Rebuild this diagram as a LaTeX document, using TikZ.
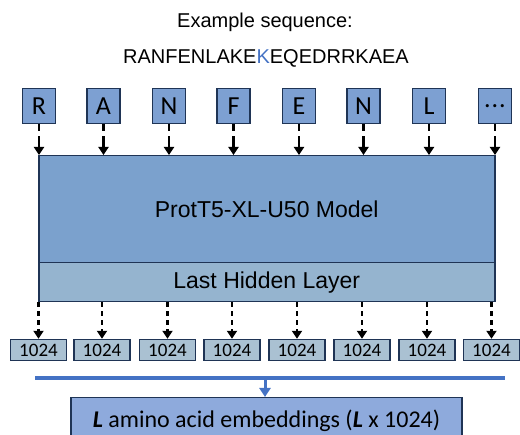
\documentclass[tikz,border=0pt]{standalone}
\usepackage{fontspec}
\setmainfont{Liberation Sans}
\newfontfamily\calfont{Carlito}
\usetikzlibrary{arrows.meta}
\definecolor{letterfill}{HTML}{7DA0D2}
\definecolor{modelfill}{HTML}{7BA1CD}
\definecolor{hiddenfill}{HTML}{95B4CF}
\definecolor{dimfill}{HTML}{AAC1D2}
\definecolor{embfill}{HTML}{8EAADC}
\definecolor{edge}{HTML}{1F3455}
\definecolor{accent}{HTML}{4472C4}
\newcommand\mythreedots{.\kern1pt.\kern1pt.}
\tikzset{
  letterbox/.style={draw=edge, line width=1.5pt, fill=letterfill, minimum width=33pt, minimum height=35pt, inner sep=0pt, font=\calfont\fontsize{26}{26}\selectfont},
  dimbox/.style={draw=edge, line width=1.4pt, fill=dimfill, minimum width=56pt, minimum height=21pt, inner sep=0pt, font=\calfont\fontsize{19}{19}\selectfont},
  inarrow/.style={line width=2.4pt, dash pattern=on 7pt off 5pt on 40pt off 5pt, -{Triangle[width=10pt,length=8pt]}},
  outarrow/.style={line width=2.4pt, dash pattern=on 5pt off 4pt, -{Triangle[width=10pt,length=8pt]}},
  bluearrow/.style={accent, line width=3pt, -{Triangle[width=11pt,length=9pt]}},
}
\begin{document}
\begin{tikzpicture}[x=1pt,y=-1pt]
\clip (0,0) rectangle (520,435);
\useasboundingbox (0,0) rectangle (520,435);
\node[font=\fontsize{20}{20}\selectfont] (title) at (265,22) {Example sequence:};
\node[font=\fontsize{20}{20}\selectfont] (seq) at (266,58) {RANFENLAKE\textcolor{accent}{K}EQEDRRKAEA};
% letter boxes
\foreach \i/\x/\t in {1/39/R,2/103.5/A,3/169/N,4/233.5/F,5/299/E,6/363.5/N,7/429/L,8/495/\mythreedots}{
  \node[letterbox] (l\i) at (\x,106) {\t};
}
% model
\node[draw=edge, line width=1.5pt, fill=modelfill, minimum width=456pt, minimum height=107pt, inner sep=0pt, anchor=north west, font=\fontsize{23}{23}\selectfont] (model) at (38,155) {ProtT5-XL-U50 Model};
\node[draw=edge, line width=1.5pt, fill=hiddenfill, minimum width=456pt, minimum height=39pt, inner sep=0pt, anchor=north west, font=\fontsize{23}{23}\selectfont] (hidden) at (38,262) {Last Hidden Layer};
\foreach \i in {1,...,8}{
  \draw[inarrow] (l\i.south) -- (l\i.south |- model.north);
}
% 1024 boxes
\foreach \i/\x in {1/38.5,2/102,3/167.5,4/232,5/297,6/362,7/427,8/491.5}{
  \node[dimbox] (d\i) at (\x,350) {1024};
}
\foreach \i in {1,...,8}{
  \draw[outarrow] (d\i.north |- hidden.south) -- (d\i.north);
}
% blue collector
\coordinate (bl) at (35,378);
\coordinate (br) at (505,378);
\coordinate (bm) at (265,378);
\draw[accent, line width=3.2pt] (bl) -- (br);
\node[draw=edge, line width=1.5pt, fill=embfill, minimum width=391pt, minimum height=46pt, inner sep=0pt, anchor=north, font=\calfont\fontsize{24}{24}\selectfont] (emb) at (266.5,397) {\textbf{\textit{L}} amino acid embeddings (\textbf{\textit{L}} x 1024)};
\draw[bluearrow] (bm) -- (bm |- emb.north);
\end{tikzpicture}
\end{document}
